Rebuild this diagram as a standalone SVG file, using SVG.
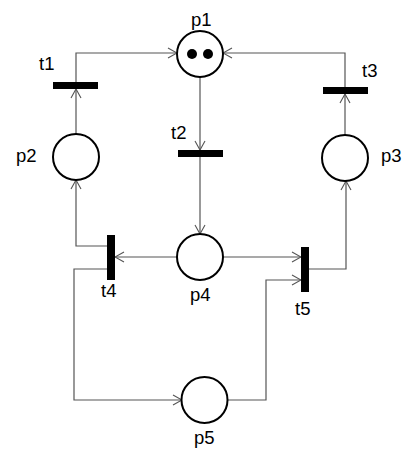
<svg xmlns="http://www.w3.org/2000/svg" width="420" height="454" viewBox="0 0 420 454">
<defs>
<style>
.place{fill:#fff;stroke:#000;stroke-width:2}
.trans{fill:#000}
.lbl{font-family:"Liberation Sans",Arial,sans-serif;font-size:18.5px;fill:#000}
.arc{fill:none;stroke:#555;stroke-width:1.2;marker-end:url(#arr)}
</style>
<marker id="arr" markerUnits="userSpaceOnUse" viewBox="-10 -6 11 12" refX="0" refY="0" markerWidth="11" markerHeight="12" orient="auto">
<path d="M-9,-5 L0,0 L-9,5" fill="none" stroke="#555" stroke-width="1.1"/>
</marker>
</defs>
<rect width="420" height="454" fill="#fff"/>
<g id="connectors">
<path class="arc" d="M76,82 V53 H177"/>
<path class="arc" d="M345,87 V53 H223"/>
<path class="arc" d="M200,77 V150"/>
<path class="arc" d="M200,157 V234"/>
<path class="arc" d="M76,134 V89"/>
<path class="arc" d="M345,135 V94"/>
<path class="arc" d="M177,257 H115"/>
<path class="arc" d="M107,246 H76 V180"/>
<path class="arc" d="M107,269 H74 V400 H182"/>
<path class="arc" d="M223,257 H301"/>
<path class="arc" d="M227,400 H266 V280 H301"/>
<path class="arc" d="M309,269 H346 V181"/>
</g>
<g id="p1"><circle class="place" cx="200" cy="54" r="23"/><circle cx="192" cy="54" r="5"/><circle cx="208" cy="54" r="5"/><text class="lbl" x="191" y="26">p1</text></g>
<g id="p2"><circle class="place" cx="76" cy="157" r="23"/><text class="lbl" x="16" y="162">p2</text></g>
<g id="p3"><circle class="place" cx="345" cy="158" r="23"/><text class="lbl" x="381" y="162">p3</text></g>
<g id="p4"><circle class="place" cx="200" cy="257" r="23"/><text class="lbl" x="190" y="301">p4</text></g>
<g id="p5"><circle class="place" cx="204.5" cy="400" r="23"/><text class="lbl" x="194" y="444">p5</text></g>
<g id="t1"><rect class="trans" x="53" y="82" width="45" height="7"/><text class="lbl" x="39" y="70">t1</text></g>
<g id="t2"><rect class="trans" x="178" y="150" width="45" height="7"/><text class="lbl" x="171" y="139">t2</text></g>
<g id="t3"><rect class="trans" x="323" y="87" width="45" height="7"/><text class="lbl" x="362" y="77">t3</text></g>
<g id="t4"><rect class="trans" x="107" y="235" width="8" height="45"/><text class="lbl" x="101" y="297">t4</text></g>
<g id="t5"><rect class="trans" x="301" y="247" width="8" height="45"/><text class="lbl" x="295" y="315">t5</text></g>
</svg>
